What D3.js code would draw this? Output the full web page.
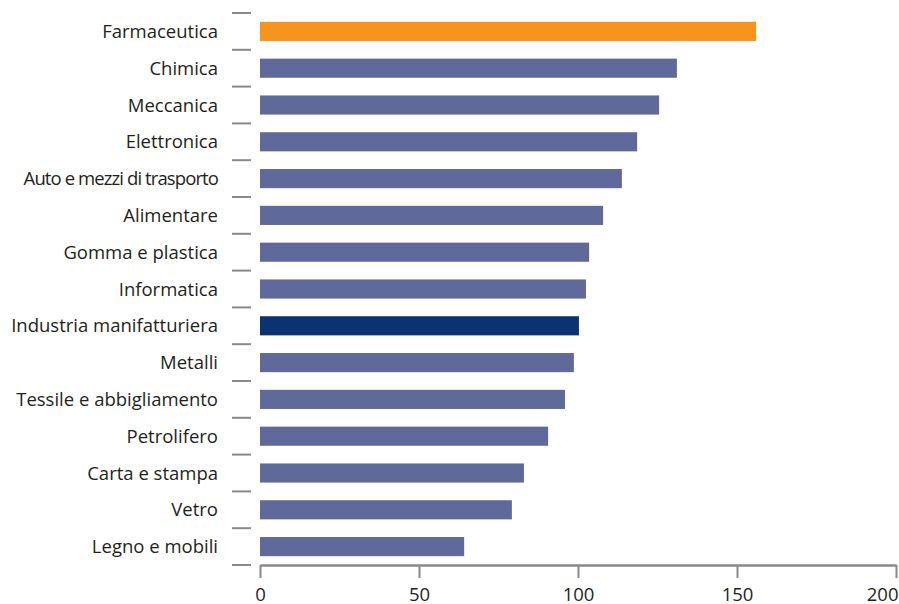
<!DOCTYPE html>
<html><head><meta charset="utf-8">
<script src="https://cdn.jsdelivr.net/npm/d3@7"></script>
<style>body{margin:0;background:#fff}svg{display:block}</style>
</head><body>
<svg id="c" width="899" height="604"></svg>
<script>
const categories = ["Farmaceutica","Chimica","Meccanica","Elettronica","Auto e mezzi di trasporto","Alimentare","Gomma e plastica","Informatica","Industria manifatturiera","Metalli","Tessile e abbigliamento","Petrolifero","Carta e stampa","Vetro","Legno e mobili"];
const values = [156.0,131.1,125.5,118.6,113.8,107.9,103.5,102.5,100.3,98.7,95.9,90.6,83.0,79.2,64.2];
const highlight = {"Farmaceutica":"#F7941D","Industria manifatturiera":"#0B3370"};
const xTicks = [0,50,100,150,200];

const svg = d3.select("#c");
const x = d3.scaleLinear().domain([0,200]).range([260,896]);
const y = d3.scaleBand().domain(categories).range([13,565]).paddingInner(0.48).paddingOuter(0.24);
const font = "'Open Sans', sans-serif";
const fs = 18.5;

// left category separators
const step = y.step();
const bounds = d3.range(categories.length+1).map(i => 13 + i*step);
svg.append("g").selectAll("line").data(bounds).join("line")
  .attr("x1",232).attr("x2",251).attr("y1",d=>d).attr("y2",d=>d)
  .attr("stroke","#898989").attr("stroke-width",2);

// bars
svg.append("g").selectAll("rect").data(categories).join("rect")
  .attr("x",x(0)).attr("y",d=>y(d)).attr("height",y.bandwidth())
  .attr("width",(d,i)=>x(values[i])-x(0))
  .attr("fill",d=>highlight[d]||"#5F6A9A");

// labels
svg.append("g").selectAll("text").data(categories).join("text")
  .attr("x",218).attr("y",d=>y(d)+y.bandwidth()/2)
  .attr("dy","0.36em").attr("text-anchor","end")
  .attr("font-family",font).attr("font-size",fs).attr("fill","#231F20")
  .attr("letter-spacing",d=>d.startsWith("Auto")?"-0.9px":"0")
  .text(d=>d);

// bottom axis
const ax = svg.append("g").attr("transform","translate(0,565)")
  .call(d3.axisBottom(x).tickValues(xTicks).tickSize(13).tickSizeOuter(0));
ax.select(".domain").attr("stroke","#898989").attr("stroke-width",2.5);
ax.selectAll(".tick line").attr("stroke","#898989").attr("stroke-width",2);
ax.selectAll(".tick text").attr("font-family",font).attr("font-size",fs).attr("fill","#231F20")
  .attr("y",35.5).attr("dy",0)
  .attr("text-anchor",d=>d===200?"end":"middle")
  .attr("dx",d=>d===200?2:0);
</script>
</body></html>
